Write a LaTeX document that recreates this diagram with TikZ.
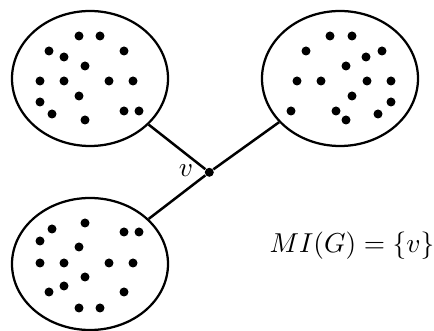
\documentclass[tikz,border=0pt]{standalone}
\usetikzlibrary{shapes.geometric}
\begin{document}
\begin{tikzpicture}[x=0.4pt,y=-0.4pt,
  blob/.style={ellipse,draw,line width=0.9pt,minimum width=62.4pt,minimum height=54pt,inner sep=0pt},
  pt/.style={circle,fill,inner sep=0pt,minimum size=3.6pt},
  edge/.style={line width=1pt},
  lbl/.style={font=\fontsize{10.8}{13}\selectfont}]
\useasboundingbox (0,0) rectangle (434,331);
\node[blob] (A) at (90,78.5) {};
\node[blob] (B) at (340,78.5) {};
\node[blob,minimum height=52.8pt] (C) at (90,264) {};
\node[pt] (v) at (209.3,172.3) {};
\node[lbl] (vl) at (186,171) {$v$};
\draw[edge] (v) -- (A);
\draw[edge] (v) -- (B);
\draw[edge] (v) -- (C);
\node[lbl] (mi) at (352,246) {$MI(G)=\{v\}$};
% dots in A
\foreach \p [count=\i] in {(79,36),(100,36),(49,51),(64,57),(124,51),(85,66),(40,81),(64,81),(109,81),(133,81),(79,96),(40,102),(52,114),(85,120),(124,111),(139,111)}
  \node[pt] (a\i) at \p {};
% dots in B
\foreach \p [count=\i] in {(330,36),(352,36),(306,51),(366,57),(382,51),(346,66),(297,81),(321,81),(367,81),(391,81),(352,96),(391,102),(291,111),(336,111),(346,120),(378,114)}
  \node[pt] (b\i) at \p {};
% dots in C
\foreach \p [count=\i] in {(85,223),(52,229),(40,241),(79,247),(124,232),(139,232),(40,263),(64,263),(109,263),(133,263),(85,277),(64,286),(49,292),(124,292),(79,308),(100,308)}
  \node[pt] (c\i) at \p {};
\end{tikzpicture}
\end{document}
